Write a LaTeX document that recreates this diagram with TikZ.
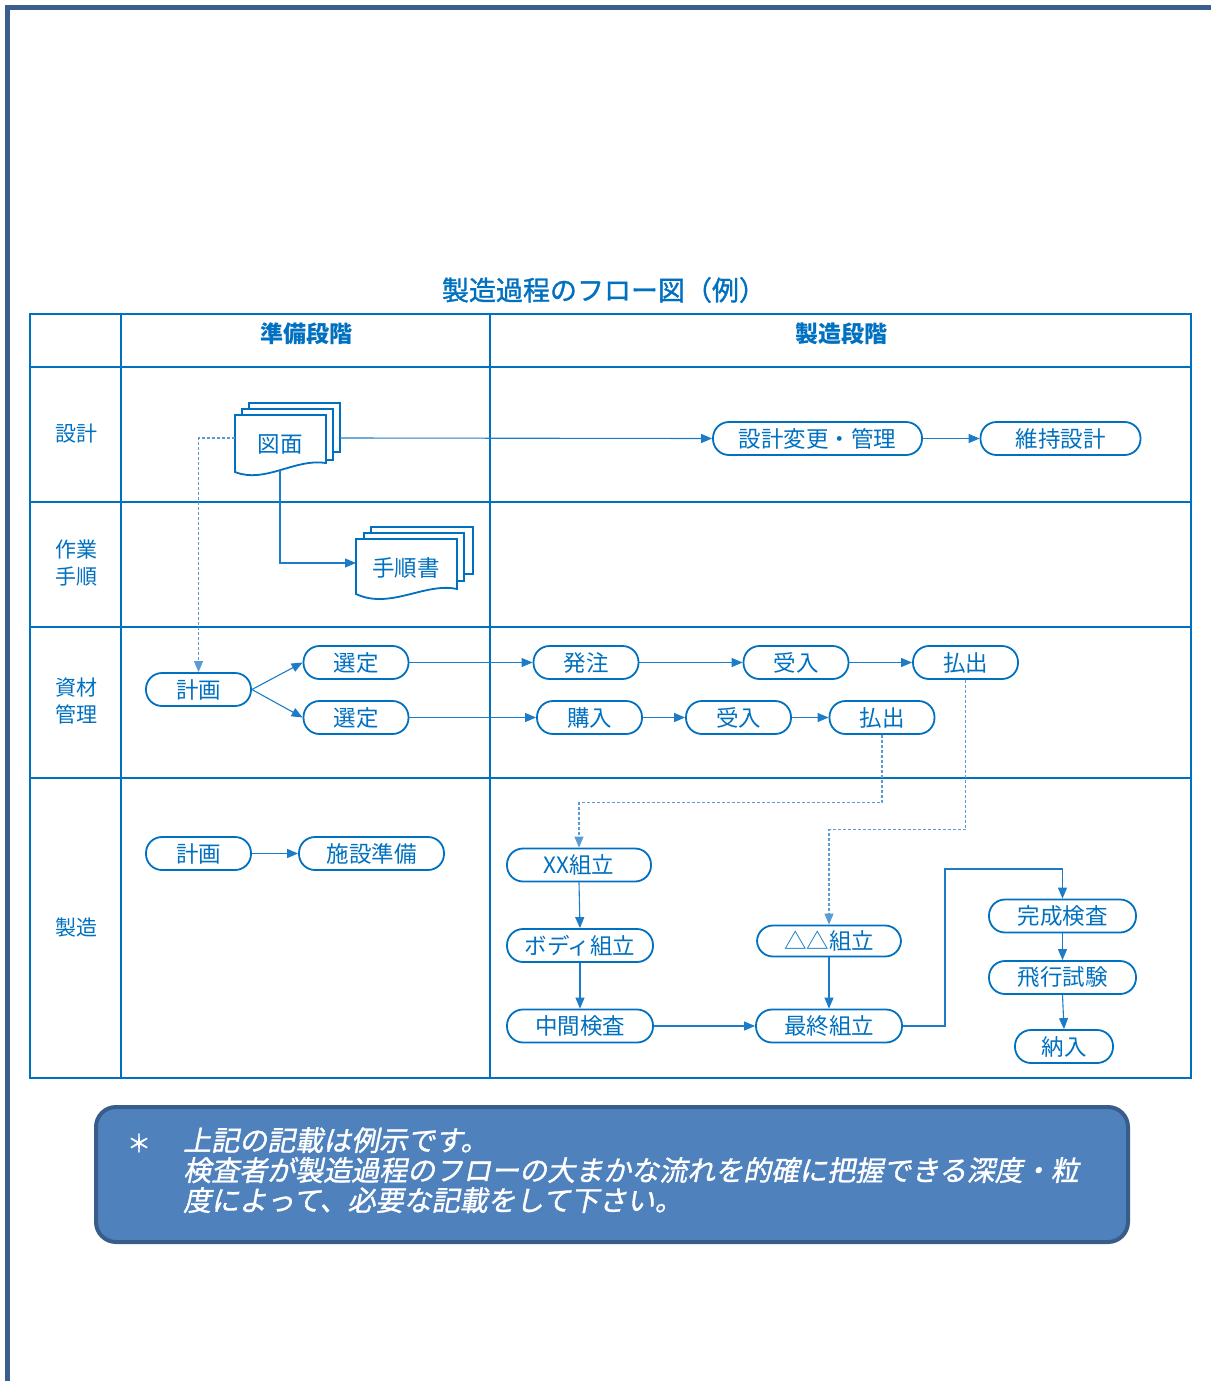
\documentclass[tikz,border=0pt]{standalone}
\usepackage{fontspec}
\setmainfont{Noto Sans CJK JP}
\newfontfamily\noteit{Noto Sans CJK JP}[FakeSlant=0.2,FakeBold=1.2]
\newfontfamily\titlefont{Noto Sans CJK JP}[FakeBold=1.2]
\usetikzlibrary{arrows.meta}
\definecolor{myblue}{HTML}{0070C0}
\definecolor{linecol}{HTML}{1C7CC8}
\definecolor{dotcol}{HTML}{5B9BD5}
\definecolor{framecol}{HTML}{3A5F8E}
\definecolor{notefill}{HTML}{4F81BD}
\definecolor{noteborder}{HTML}{385D8A}
\begin{document}
\begin{tikzpicture}[x=1pt,y=-1pt,
  pill/.style={draw=myblue,line width=1.8pt,rounded corners=16pt,minimum height=33pt,
    inner sep=0pt,text=myblue,font=\fontsize{22.5}{24}\selectfont,fill=white},
  conn/.style={draw=linecol,line width=1.1pt,-{Triangle[length=11pt,width=9pt]}},
  dotconn/.style={conn,draw=dotcol,dash pattern=on 3pt off 2pt},
  tab/.style={draw=myblue,line width=2pt},
  page/.style={draw=myblue,line width=1.8pt,fill=white},
  lane/.style={text=myblue,font=\fontsize{21}{27}\selectfont,align=center},
  hdr/.style={text=myblue,font=\fontsize{23}{26}\selectfont\bfseries},
  doctext/.style={text=myblue,font=\fontsize{22.5}{24}\selectfont,inner sep=0pt}
]
\useasboundingbox (0,0) rectangle (1211,1381);
% outer frame
\draw[framecol,line width=5pt] (7.5,1381) -- (7.5,7.5) -- (1211,7.5);

% title
\node[text=myblue,font=\titlefont\fontsize{27}{30}\selectfont] (title) at (604,290) {製造過程のフロー図（例）};

% table
\draw[tab] (30,314) rectangle (1191,1078);
\foreach \yy in {367,502,627,778} \draw[tab] (30,\yy) -- (1191,\yy);
\draw[tab] (121,314) -- (121,1078);
\draw[tab] (490,314) -- (490,1078);

% headers
\node[hdr] (h1) at (306,334) {準備段階};
\node[hdr] (h2) at (841,334) {製造段階};

% lane labels
\node[lane] (l1) at (76,434) {設計};
\node[lane] (l2) at (76,563) {作業\\手順};
\node[lane] (l3) at (76,701) {資材\\管理};
\node[lane] (l4) at (76,928) {製造};

% document stack: 図面
\draw[page] (249,403) rectangle (340,452);
\draw[page] (242,409) rectangle (333,460);
\draw[page] (235,415) -- (326,415) -- (326,463) .. controls (295,458) and (265,484) .. (235,472) -- cycle;
\node[doctext] (zumen) at (280,444) {図面};
\coordinate (zumenR) at (340,438);
\coordinate (zumenL) at (235,438);
\coordinate (zumenB) at (280,470);

% document stack: 手順書
\draw[page] (371,527) rectangle (473,574);
\draw[page] (364,533) rectangle (464,581);
\draw[page] (356,539) -- (457,539) -- (457,589) .. controls (425,582) and (390,610) .. (356,594) -- cycle;
\node[doctext] (tejun) at (406,568) {手順書};
\coordinate (tejunL) at (356,563);

% pills
\node[pill,minimum width=209pt] (henkou) at (817.5,438.5) {設計変更・管理};
\node[pill,minimum width=160pt] (iji) at (1060.5,438.5) {維持設計};

\node[pill,minimum width=105pt] (keikaku1) at (198.5,689.5) {計画};
\node[pill,minimum width=105pt] (sentei1) at (356,662.5) {選定};
\node[pill,minimum width=105pt] (sentei2) at (356,717.5) {選定};
\node[pill,minimum width=105pt] (hatchu) at (586,662.5) {発注};
\node[pill,minimum width=105pt] (ukeire1) at (796,662.5) {受入};
\node[pill,minimum width=105pt] (harai1) at (965.5,662.5) {払出};
\node[pill,minimum width=105pt] (kounyu) at (589.5,717.5) {購入};
\node[pill,minimum width=105pt] (ukeire2) at (738.5,717.5) {受入};
\node[pill,minimum width=105pt] (harai2) at (882,717.5) {払出};

\node[pill,minimum width=105pt] (keikaku2) at (198.5,853.5) {計画};
\node[pill,minimum width=145pt] (shisetsu) at (371.5,853.5) {施設準備};

\node[pill,minimum width=144pt] (xx) at (579,865) {XX組立};
\node[pill,minimum width=146pt] (body) at (580,945.5) {ボディ組立};
\node[pill,minimum width=146pt] (chukan) at (580,1026) {中間検査};
\node[pill,minimum width=144pt,minimum height=31pt] (delta) at (829,941) {△△組立};
\node[pill,minimum width=146pt] (saishu) at (829,1026) {最終組立};
\node[pill,minimum width=147pt] (kansei) at (1062.5,916) {完成検査};
\node[pill,minimum width=147pt] (hiko) at (1062.5,977.5) {飛行試験};
\node[pill,minimum width=98pt] (nonyu) at (1064,1046.5) {納入};

% connectors
\draw[conn] (zumenR) -- (henkou.west);
\draw[conn] (henkou.east) -- (iji.west);
\draw[conn] (zumenB) |- (tejunL);
\draw[dotconn] (zumenL) -| (keikaku1.north);

\draw[conn] (keikaku1.east) -- (sentei1.west);
\draw[conn] (keikaku1.east) -- (sentei2.west);
\draw[conn] (sentei1.east) -- (hatchu.west);
\draw[conn] (hatchu.east) -- (ukeire1.west);
\draw[conn] (ukeire1.east) -- (harai1.west);
\draw[conn] (sentei2.east) -- (kounyu.west);
\draw[conn] (kounyu.east) -- (ukeire2.west);
\draw[conn] (ukeire2.east) -- (harai2.west);

\draw[dotconn] (harai2.south) -- ++(0,67.5) -| (xx.north);
\draw[dotconn] (harai1.south) -- ++(0,150) -| (delta.north);

\draw[conn] (keikaku2.east) -- (shisetsu.west);
\draw[conn] (xx.south) -- (body.north);
\draw[conn] (body.south) -- (chukan.north);
\draw[conn] (chukan.east) -- (saishu.west);
\draw[conn] (delta.south) -- (saishu.north);
\coordinate (bend) at (945,869);
\draw[conn] (saishu.east) -| (bend) -| (kansei.north);
\draw[conn] (kansei.south) -- (hiko.north);
\draw[conn] (hiko.south) -- (nonyu.north);

% note box
\draw[draw=noteborder,line width=4pt,fill=notefill,rounded corners=20pt] (96,1107) rectangle (1128,1242);
\node[text=white,font=\titlefont\fontsize{24}{30}\selectfont,anchor=center] (ast) at (139,1143) {＊};
\node[text=white,font=\noteit\fontsize{28}{30}\selectfont,anchor=north west,align=left,inner sep=0pt] (note) at (183,1127)
  {上記の記載は例示です。\\検査者が製造過程のフローの大まかな流れを的確に把握できる深度・粒\\度によって、必要な記載をして下さい。};
\end{tikzpicture}
\end{document}
